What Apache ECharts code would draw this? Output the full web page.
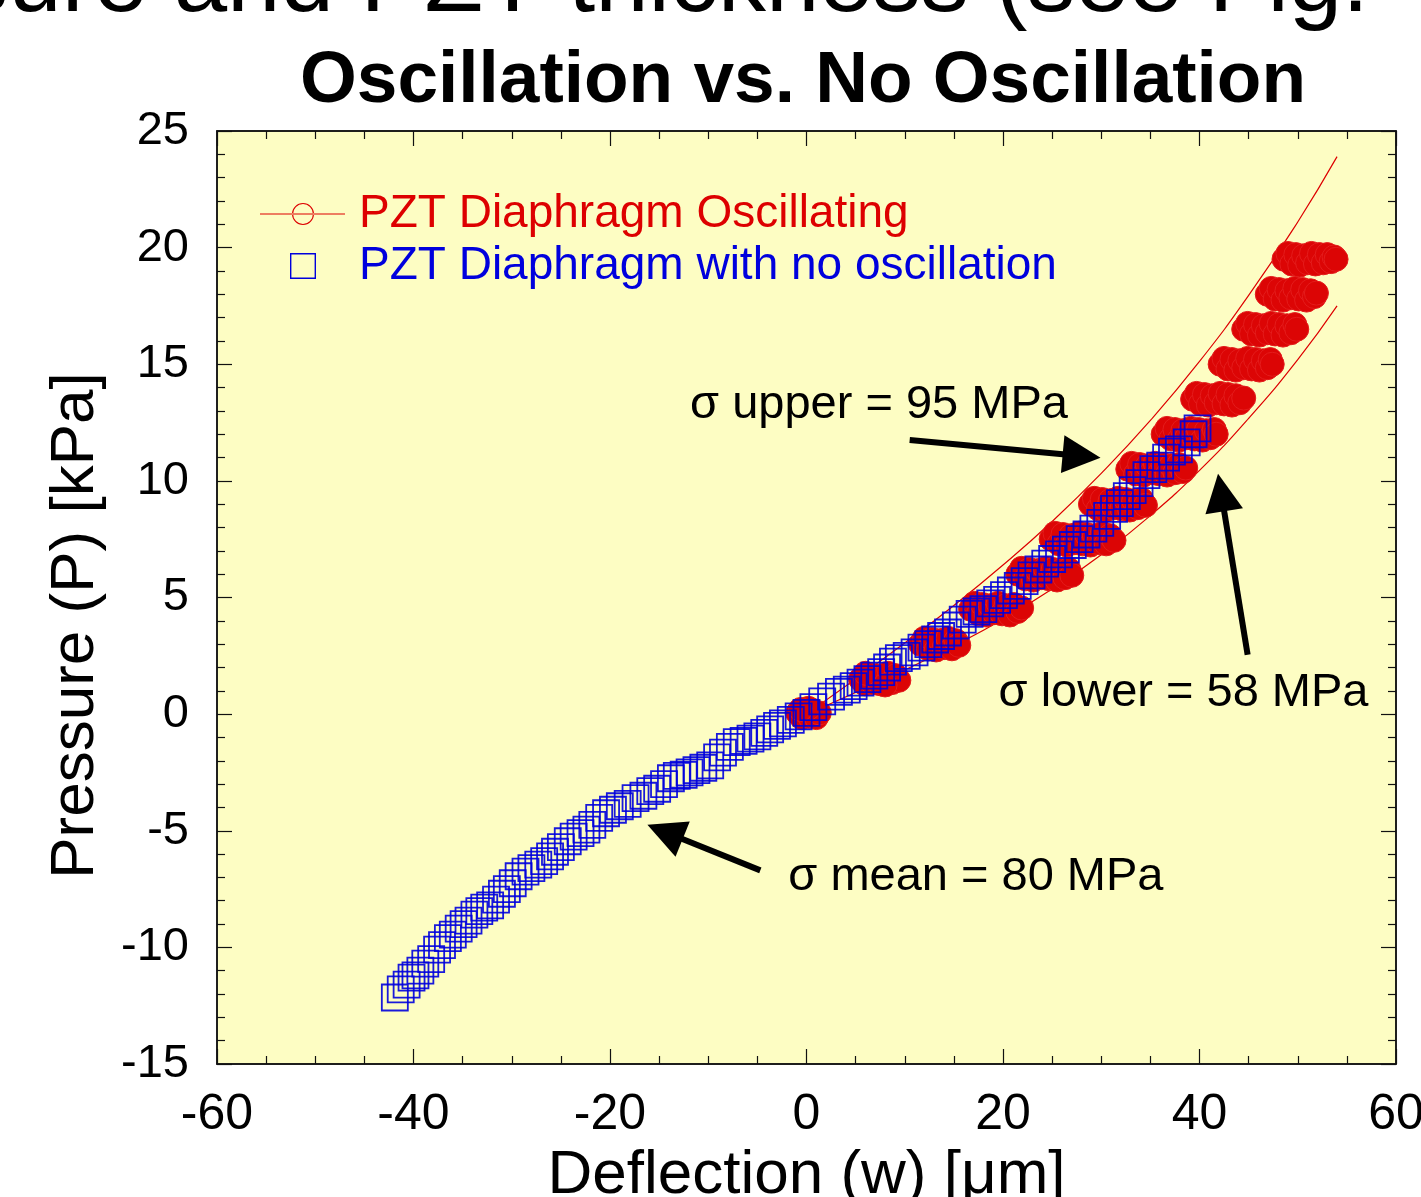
<!DOCTYPE html>
<html>
<head>
<meta charset="utf-8">
<title>Oscillation vs. No Oscillation</title>
<script src="https://cdn.jsdelivr.net/npm/echarts@6/dist/echarts.min.js"></script>
<style>
  html, body { margin: 0; padding: 0; background: #fff; overflow: hidden; }
  #chart { width: 1421px; height: 1197px; }
</style>
</head>
<body>
<div id="chart"></div>
<script>
// axis ticks
var xTicks = { min: -60, max: 60, interval: 20 };
var yTicks = { min: -15, max: 25, interval: 5 };

// PZT Diaphragm Oscillating: clusters of points, one per pressure step [w, P]
var oscPoints = [
  // ~0 kPa
  [-0.9, 0.05], [-0.5, -0.15], [-0.1, 0.2], [0.3, -0.1], [0.7, 0.15], [1.0, -0.15], [1.3, 0.05], [0.2, 0.25], [-0.6, 0.2],
  // ~1.5 kPa
  [5.5, 1.5], [5.9, 1.3], [6.3, 1.7], [6.7, 1.35], [7.1, 1.65], [7.5, 1.3], [7.9, 1.6], [8.3, 1.75], [8.7, 1.35], [9.1, 1.65], [9.4, 1.45], [6.0, 1.75], [8.0, 1.25],
  // ~3 kPa
  [11.6, 3.0], [12.0, 3.25], [12.4, 2.8], [12.8, 3.2], [13.2, 2.75], [13.6, 3.15], [14.0, 2.85], [14.4, 3.25], [14.8, 2.8], [15.2, 3.15], [15.5, 2.95],
  // ~4.5 kPa
  [16.7, 4.5], [17.1, 4.75], [17.5, 4.3], [17.9, 4.7], [18.3, 4.25], [18.7, 4.65], [19.1, 4.35], [19.5, 4.75], [19.9, 4.3], [20.3, 4.65], [20.7, 4.25], [21.1, 4.7], [21.5, 4.4], [21.9, 4.55],
  // ~6 kPa
  [21.5, 6.0], [21.9, 6.25], [22.3, 5.8], [22.7, 6.2], [23.1, 5.75], [23.5, 6.15], [23.9, 5.85], [24.3, 6.25], [24.7, 5.8], [25.1, 6.2], [25.5, 5.75], [25.9, 6.15], [26.3, 5.85], [26.7, 6.2], [27.0, 5.95],
  // ~7.5 kPa
  [24.9, 7.5], [25.3, 7.75], [25.7, 7.3], [26.1, 7.7], [26.5, 7.25], [26.9, 7.65], [27.3, 7.35], [27.7, 7.75], [28.1, 7.3], [28.5, 7.7], [28.9, 7.25], [29.3, 7.65], [29.7, 7.35], [30.1, 7.75], [30.5, 7.3], [30.9, 7.65], [31.3, 7.45],
  // ~9 kPa
  [28.9, 9.0], [29.3, 9.25], [29.7, 8.8], [30.1, 9.2], [30.5, 8.75], [30.9, 9.15], [31.3, 8.85], [31.7, 9.25], [32.1, 8.8], [32.5, 9.2], [32.9, 8.75], [33.3, 9.15], [33.7, 8.85], [34.1, 9.2], [34.5, 8.95],
  // ~10.5 kPa
  [32.7, 10.5], [33.1, 10.75], [33.5, 10.3], [33.9, 10.7], [34.3, 10.25], [34.7, 10.65], [35.1, 10.35], [35.5, 10.75], [35.9, 10.3], [36.3, 10.7], [36.7, 10.25], [37.1, 10.65], [37.5, 10.35], [37.9, 10.7], [38.3, 10.4], [38.6, 10.55],
  // ~12 kPa
  [36.3, 12.0], [36.7, 12.25], [37.1, 11.8], [37.5, 12.2], [37.9, 11.75], [38.3, 12.15], [38.7, 11.85], [39.1, 12.25], [39.5, 11.8], [39.9, 12.2], [40.3, 11.75], [40.7, 12.15], [41.1, 11.85], [41.5, 12.2], [41.7, 12.0],
  // ~13.5 kPa
  [39.3, 13.5], [39.7, 13.75], [40.1, 13.3], [40.5, 13.7], [40.9, 13.25], [41.3, 13.65], [41.7, 13.35], [42.1, 13.75], [42.5, 13.3], [42.9, 13.7], [43.3, 13.25], [43.7, 13.65], [44.1, 13.35], [44.5, 13.55],
  // ~15 kPa
  [42.1, 15.0], [42.5, 15.25], [42.9, 14.8], [43.3, 15.2], [43.7, 14.75], [44.1, 15.15], [44.5, 14.85], [44.9, 15.25], [45.3, 14.8], [45.7, 15.2], [46.1, 14.75], [46.5, 15.15], [46.9, 14.85], [47.2, 15.2], [47.4, 15.0],
  // ~16.5 kPa
  [44.5, 16.5], [44.9, 16.75], [45.3, 16.3], [45.7, 16.7], [46.1, 16.25], [46.5, 16.65], [46.9, 16.35], [47.3, 16.75], [47.7, 16.3], [48.1, 16.7], [48.5, 16.25], [48.9, 16.65], [49.3, 16.35], [49.7, 16.7], [49.9, 16.5],
  // ~18 kPa
  [46.9, 18.0], [47.3, 18.25], [47.7, 17.8], [48.1, 18.2], [48.5, 17.75], [48.9, 18.15], [49.3, 17.85], [49.7, 18.25], [50.1, 17.8], [50.5, 18.2], [50.9, 17.75], [51.3, 18.15], [51.7, 17.9], [51.9, 18.05],
  // ~19.5 kPa
  [48.6, 19.5], [49.0, 19.75], [49.4, 19.3], [49.8, 19.7], [50.2, 19.25], [50.6, 19.65], [51.0, 19.35], [51.4, 19.75], [51.8, 19.3], [52.2, 19.7], [52.6, 19.35], [53.0, 19.7], [53.4, 19.4], [53.7, 19.6], [53.9, 19.5]
];

// PZT Diaphragm with no oscillation [w, P]
var noOscPoints = [
  [-41.9, -12.15], [-41.3, -11.8], [-40.7, -11.6], [-40.2, -11.3], [-39.8, -11.2], [-39.3, -11.0], [-38.8, -10.7], [-38.2, -10.5],
  [-37.6, -10.1], [-37.1, -9.9], [-36.5, -9.6], [-36.0, -9.45], [-35.4, -9.2], [-34.9, -9.0], [-34.4, -8.85], [-33.8, -8.6],
  [-33.3, -8.45], [-32.8, -8.3], [-32.2, -8.2], [-31.6, -7.95], [-31.0, -7.7], [-30.5, -7.5], [-29.9, -7.25], [-29.3, -6.95],
  [-28.6, -6.75], [-28.0, -6.6], [-27.3, -6.45], [-26.7, -6.3], [-26.1, -6.1], [-25.6, -5.9], [-25.0, -5.7], [-24.3, -5.45],
  [-23.7, -5.25], [-23.0, -5.1], [-22.4, -4.95], [-21.8, -4.75], [-21.1, -4.45], [-20.4, -4.25], [-19.7, -4.1], [-19.0, -3.95],
  [-18.2, -3.85], [-17.4, -3.6], [-16.6, -3.5], [-15.9, -3.3], [-15.2, -3.2], [-14.5, -3.0], [-13.8, -2.75], [-13.2, -2.65],
  [-12.5, -2.6], [-11.9, -2.5], [-11.2, -2.4], [-10.5, -2.3], [-9.8, -2.2], [-9.1, -1.85], [-8.5, -1.65], [-7.8, -1.4],
  [-7.1, -1.2], [-6.4, -1.15], [-5.7, -1.05], [-5.0, -0.95], [-4.3, -0.8], [-3.7, -0.65], [-3.0, -0.5], [-2.4, -0.4],
  [-1.6, -0.25], [-0.8, -0.1], [0.0, 0.05], [0.7, 0.3], [1.6, 0.55], [2.5, 0.75], [3.3, 0.95], [4.1, 1.05],
  [4.8, 1.2], [5.5, 1.35], [6.2, 1.5], [6.9, 1.65], [7.6, 1.8], [8.2, 2.0], [8.8, 2.25], [9.4, 2.4],
  [10.2, 2.5], [11.0, 2.65], [11.7, 2.85], [12.4, 3.0], [13.1, 3.2], [13.7, 3.35], [14.4, 3.5], [15.2, 3.8],
  [15.9, 4.05], [16.6, 4.3], [17.3, 4.4], [18.0, 4.5], [18.7, 4.75], [19.4, 4.9], [20.1, 5.1], [20.8, 5.3],
  [21.5, 5.5], [22.2, 5.7], [22.9, 5.95], [23.6, 6.2], [24.3, 6.45], [25.0, 6.65], [25.7, 6.85], [26.4, 7.05],
  [27.1, 7.25], [27.8, 7.5], [28.5, 7.7], [29.2, 7.95], [29.9, 8.2], [30.6, 8.5], [31.3, 8.8], [31.9, 9.05],
  [32.6, 9.35], [33.2, 9.6], [33.9, 9.9], [34.6, 10.25], [35.3, 10.5], [36.0, 10.65], [36.6, 11.0], [37.2, 11.25],
  [37.9, 11.35], [38.7, 11.65], [39.4, 12.0], [39.8, 12.25]
];

// sigma bounding curves [w, P]
var upperCurve = [[0, 0], [5, 1.51], [10, 3.05], [15, 4.66], [20, 6.39], [25, 8.26], [30, 10.32], [35, 12.59], [40, 15.12], [45, 17.95], [50, 21.1], [54, 23.9]];
var lowerCurve = [[0, 0], [5, 0.93], [10, 1.89], [15, 2.93], [20, 4.07], [25, 5.36], [30, 6.83], [35, 8.51], [40, 10.45], [45, 12.68], [50, 15.2], [54, 17.5]];

// annotations: text, left anchor [w, P]
var annoText = ['\u03c3 upper = 95 MPa', '\u03c3 lower = 58 MPa', '\u03c3 mean = 80 MPa'];
var annoPos = [[-11.9, 13.25], [19.5, 0.9], [-1.9, -7.0]];
// arrows: tail -> head
var arrowFrom = [[10.5, 11.75], [44.9, 2.55], [-4.7, -6.7]];
var arrowTo = [[28.0, 11.07], [42.2, 9.5], [-14.4, -5.05]];

var seriesNames = ['PZT Diaphragm Oscillating', 'PZT Diaphragm with no oscillation'];
var RED = '#dd0000';
var BLUE = '#0000dd';
var FONT = '"Liberation Sans", Arial, sans-serif';

var chart = echarts.init(document.getElementById('chart'), null, { renderer: 'canvas', width: 1421, height: 1197 });

// legend icons (line through a ring / square outline), 85 x 26 box
var ringIcon = 'path://M0,0L0,0ZM85,26L85,26Z' +
  'M0,12.4L85,12.4L85,13.6L0,13.6Z' +
  'M32,13A11,11 0 1,0 54,13A11,11 0 1,0 32,13Z' +
  'M33.1,13A9.9,9.9 0 1,1 52.9,13A9.9,9.9 0 1,1 33.1,13Z';
var squareIcon = 'path://M0,0L0,0ZM85,26L85,26Z' +
  'M30,0L56,0L56,26L30,26Z' +
  'M31.4,1.4L31.4,24.6L54.6,24.6L54.6,1.4Z';

function axisCommon(extra) {
  var base = {
    type: 'value',
    axisLine: { show: true, onZero: false, lineStyle: { color: '#111', width: 1.5 } },
    axisTick: { show: true, inside: true, length: 15, lineStyle: { color: '#111', width: 1.2 } },
    splitLine: { show: false },
    minorSplitLine: { show: false }
  };
  for (var k in extra) base[k] = extra[k];
  return base;
}

var arrowData = arrowFrom.map(function (p, i) {
  return [{ coord: p }, { coord: arrowTo[i], symbol: 'triangle', symbolSize: 38 }];
});

var option = {
  animation: false,
  backgroundColor: '#ffffff',
  title: [
    {
      text: 'Deflection vs. Pressure and PZT thickness (see Fig. 4)',
      left: -845, top: -68,
      textStyle: { fontFamily: FONT, fontSize: 96, fontWeight: 'normal', color: '#000' }
    },
    {
      text: 'Oscillation vs. No Oscillation',
      left: 295, top: 40,
      textStyle: { fontFamily: FONT, fontSize: 73, fontWeight: 'bold', color: '#000' }
    }
  ],
  grid: {
    left: 217, right: 25, top: 131, bottom: 133,
    outerBoundsMode: 'none', containLabel: false,
    show: true, backgroundColor: '#fdfdc3', borderColor: '#111', borderWidth: 1.5
  },
  legend: {
    orient: 'vertical', left: 255, top: 186, itemGap: 6,
    itemWidth: 85, itemHeight: 26,
    selectedMode: false,
    textStyle: { fontFamily: FONT, fontSize: 46, padding: [0, 0, 0, 9] },
    data: [
      { name: seriesNames[0], icon: ringIcon, itemStyle: { color: RED, borderWidth: 0, opacity: 1 }, textStyle: { color: RED } },
      { name: seriesNames[1], icon: squareIcon, itemStyle: { color: BLUE, borderWidth: 0, opacity: 1 }, textStyle: { color: BLUE } }
    ]
  },
  xAxis: [
    axisCommon({
      position: 'bottom', min: xTicks.min, max: xTicks.max, interval: xTicks.interval,
      minorTick: { show: true, splitNumber: 4, length: 8, lineStyle: { color: '#111', width: 1.2 } },
      axisLabel: { fontFamily: FONT, fontSize: 50, color: '#000', margin: 26 },
      name: 'Deflection (w) [\u03bcm]', nameLocation: 'middle', nameGap: 74,
      nameTextStyle: { fontFamily: FONT, fontSize: 62, color: '#000' }
    }),
    axisCommon({
      position: 'top', min: xTicks.min, max: xTicks.max, interval: xTicks.interval,
      minorTick: { show: true, splitNumber: 4, length: 8, lineStyle: { color: '#111', width: 1.2 } },
      axisLabel: { show: false }
    })
  ],
  yAxis: [
    axisCommon({
      position: 'left', min: yTicks.min, max: yTicks.max, interval: yTicks.interval,
      minorTick: { show: true, splitNumber: 5, length: 8, lineStyle: { color: '#111', width: 1.2 } },
      axisLabel: { fontFamily: FONT, fontSize: 47, color: '#000', margin: 28 },
      name: 'Pressure (P) [kPa]', nameLocation: 'middle', nameGap: 110, nameRotate: 90,
      nameTextStyle: { fontFamily: FONT, fontSize: 62, color: '#000', padding: [0, 56, 0, 0] }
    }),
    axisCommon({
      position: 'right', min: yTicks.min, max: yTicks.max, interval: yTicks.interval,
      minorTick: { show: true, splitNumber: 5, length: 8, lineStyle: { color: '#111', width: 1.2 } },
      axisLabel: { show: false }
    })
  ],
  series: [
    {
      name: 'sigma upper', type: 'line', data: upperCurve, smooth: true,
      showSymbol: false, silent: true, z: 1,
      lineStyle: { color: RED, width: 1.2 },
      markLine: {
        silent: true, animation: false,
        symbol: ['none', 'triangle'],
        label: { show: false },
        itemStyle: { color: '#000', opacity: 1 },
        lineStyle: { color: '#000', width: 6, type: 'solid', opacity: 1 },
        emphasis: { disabled: true },
        data: arrowData
      }
    },
    {
      name: 'sigma lower', type: 'line', data: lowerCurve, smooth: true,
      showSymbol: false, silent: true, z: 1,
      lineStyle: { color: RED, width: 1.2 }
    },
    {
      name: seriesNames[0], type: 'scatter', data: oscPoints, z: 2,
      symbol: 'circle', symbolSize: 24,
      itemStyle: { color: '#dc0505', borderColor: '#e41c1c', borderWidth: 1, opacity: 1 }
    },
    {
      name: seriesNames[1], type: 'scatter', data: noOscPoints, z: 3,
      symbol: 'rect', symbolSize: 26,
      itemStyle: { color: 'rgba(0,0,0,0)', borderColor: BLUE, borderWidth: 1.8, opacity: 0.9 }
    },
    {
      name: 'annotations', type: 'scatter', z: 4, silent: true,
      data: annoPos.map(function (p, i) { return { value: p, name: annoText[i] }; }),
      symbolSize: 1,
      itemStyle: { color: 'rgba(0,0,0,0)', opacity: 1 },
      label: {
        show: true, position: 'right', distance: 0, formatter: '{b}',
        fontFamily: FONT, fontSize: 47, color: '#000'
      }
    }
  ]
};

chart.setOption(option);
</script>
</body>
</html>
